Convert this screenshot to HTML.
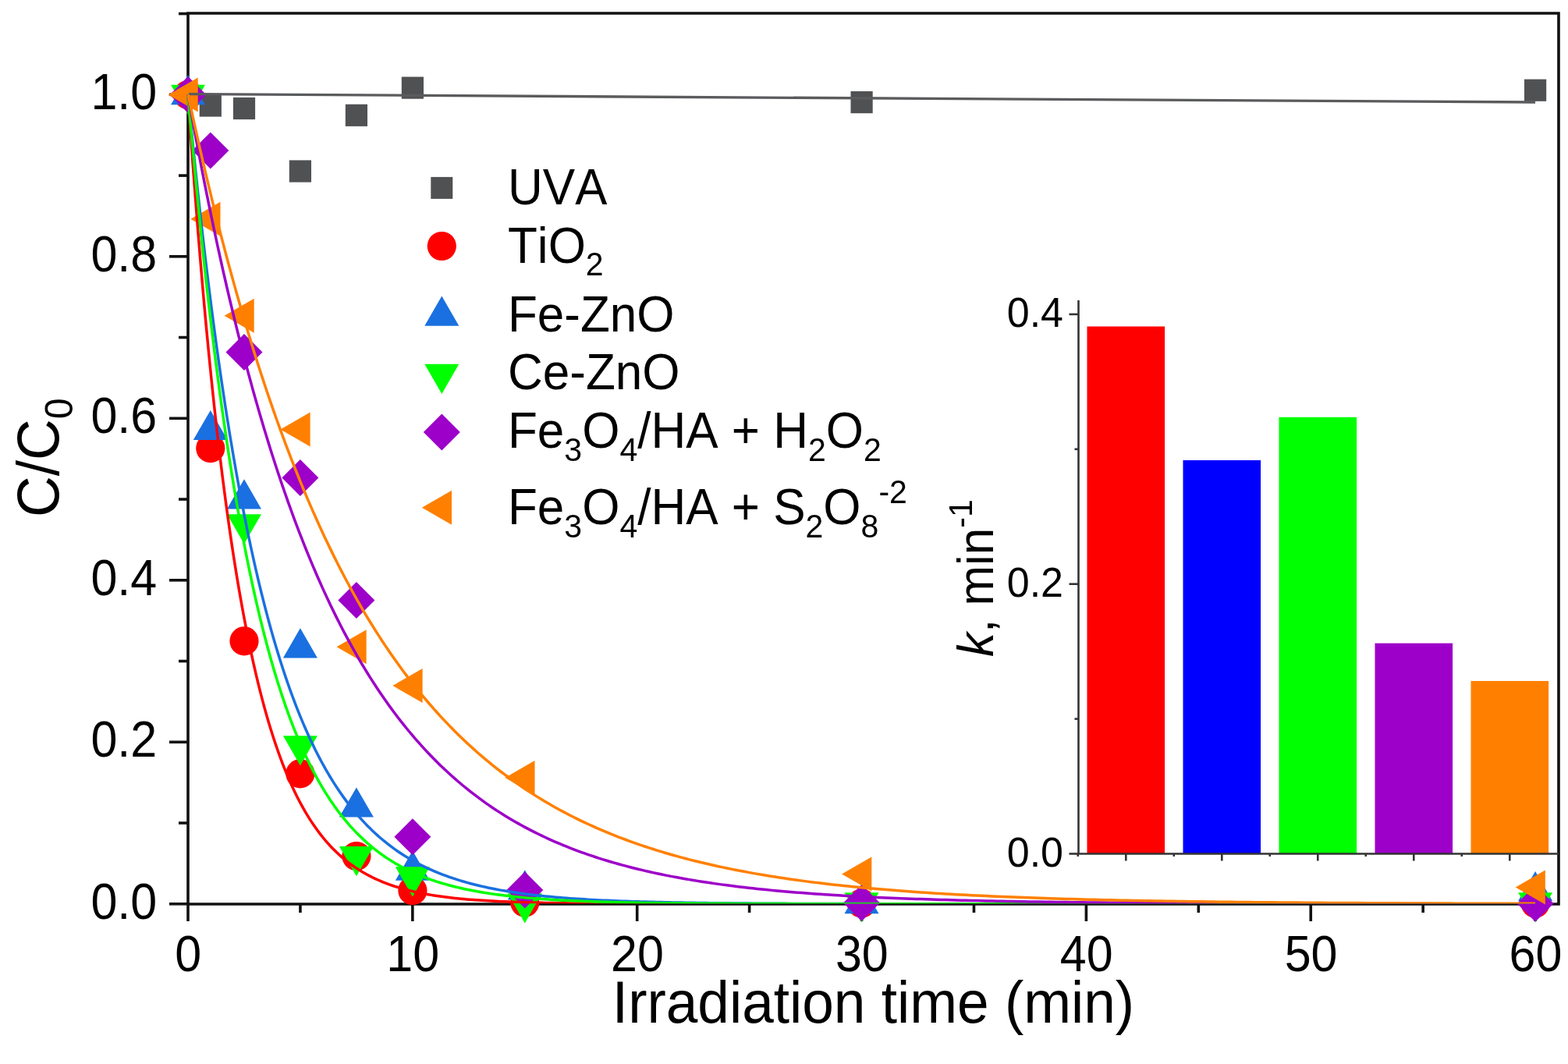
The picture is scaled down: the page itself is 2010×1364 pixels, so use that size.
<!DOCTYPE html><html><head><meta charset="utf-8"><title>C/C0 vs irradiation time</title><style>html,body{margin:0;padding:0;background:#fff;width:2010px;height:1364px;overflow:hidden}#w{width:2010px;height:1364px}svg{display:block}</style></head><body><div id="w"><svg width="2010" height="1364" viewBox="0 0 2010 1364" style="font-family:'Liberation Sans',Arial,sans-serif;font-kerning:none">
<rect width="2010" height="1364" fill="#fff"/>
<g stroke="#111111" stroke-width="3.6" fill="none" stroke-linecap="butt">
<path d="M241,1159 L241,17 L1998,17 L1998,1159 Z"/>
<line x1="217" y1="1158.80" x2="241" y2="1158.80"/>
<line x1="229" y1="1055.05" x2="241" y2="1055.05"/>
<line x1="217" y1="951.30" x2="241" y2="951.30"/>
<line x1="229" y1="847.55" x2="241" y2="847.55"/>
<line x1="217" y1="743.80" x2="241" y2="743.80"/>
<line x1="229" y1="640.05" x2="241" y2="640.05"/>
<line x1="217" y1="536.30" x2="241" y2="536.30"/>
<line x1="229" y1="432.55" x2="241" y2="432.55"/>
<line x1="217" y1="328.80" x2="241" y2="328.80"/>
<line x1="229" y1="225.05" x2="241" y2="225.05"/>
<line x1="217" y1="121.30" x2="241" y2="121.30"/>
<line x1="229" y1="17.55" x2="241" y2="17.55"/>
<line x1="241.00" y1="1159" x2="241.00" y2="1181"/>
<line x1="384.93" y1="1159" x2="384.93" y2="1170"/>
<line x1="528.85" y1="1159" x2="528.85" y2="1181"/>
<line x1="672.77" y1="1159" x2="672.77" y2="1170"/>
<line x1="816.70" y1="1159" x2="816.70" y2="1181"/>
<line x1="960.62" y1="1159" x2="960.62" y2="1170"/>
<line x1="1104.55" y1="1159" x2="1104.55" y2="1181"/>
<line x1="1248.47" y1="1159" x2="1248.47" y2="1170"/>
<line x1="1392.40" y1="1159" x2="1392.40" y2="1181"/>
<line x1="1536.33" y1="1159" x2="1536.33" y2="1170"/>
<line x1="1680.25" y1="1159" x2="1680.25" y2="1181"/>
<line x1="1824.17" y1="1159" x2="1824.17" y2="1170"/>
<line x1="1968.10" y1="1159" x2="1968.10" y2="1181"/>
</g>
<text transform="translate(201.20,1177.60) scale(1,1.06)" font-size="61" text-anchor="end" >0.0</text>
<text transform="translate(201.20,970.10) scale(1,1.06)" font-size="61" text-anchor="end" >0.2</text>
<text transform="translate(201.20,762.60) scale(1,1.06)" font-size="61" text-anchor="end" >0.4</text>
<text transform="translate(201.20,555.10) scale(1,1.06)" font-size="61" text-anchor="end" >0.6</text>
<text transform="translate(201.20,347.60) scale(1,1.06)" font-size="61" text-anchor="end" >0.8</text>
<text transform="translate(201.20,140.10) scale(1,1.06)" font-size="61" text-anchor="end" >1.0</text>
<text transform="translate(241.30,1244.80) scale(1,1.06)" font-size="61" text-anchor="middle" >0</text>
<text transform="translate(529.15,1244.80) scale(1,1.06)" font-size="61" text-anchor="middle" >10</text>
<text transform="translate(817.00,1244.80) scale(1,1.06)" font-size="61" text-anchor="middle" >20</text>
<text transform="translate(1104.85,1244.80) scale(1,1.06)" font-size="61" text-anchor="middle" >30</text>
<text transform="translate(1392.70,1244.80) scale(1,1.06)" font-size="61" text-anchor="middle" >40</text>
<text transform="translate(1680.55,1244.80) scale(1,1.06)" font-size="61" text-anchor="middle" >50</text>
<text transform="translate(1968.40,1244.80) scale(1,1.06)" font-size="61" text-anchor="middle" >60</text>
<text transform="translate(1119.50,1310.50) scale(1,1.04)" font-size="73" text-anchor="middle" >Irradiation time (min)</text>
<text transform="translate(74.5,663) rotate(-90) scale(1,1.04)" font-size="73">C/C<tspan font-size="48.5" dy="18">0</tspan></text>
<rect x="255.7" y="121.4" width="28.2" height="28.2" fill="#505153"/>
<rect x="298.9" y="124.9" width="28.2" height="28.2" fill="#505153"/>
<rect x="370.8" y="205.4" width="28.2" height="28.2" fill="#505153"/>
<rect x="442.8" y="133.7" width="28.2" height="28.2" fill="#505153"/>
<rect x="514.8" y="98.5" width="28.2" height="28.2" fill="#505153"/>
<rect x="1090.5" y="117.0" width="28.2" height="28.2" fill="#505153"/>
<rect x="1954.0" y="101.6" width="28.2" height="28.2" fill="#505153"/>
<circle cx="241.0" cy="121.5" r="18.6" fill="#FF0000"/>
<circle cx="269.8" cy="574.6" r="18.6" fill="#FF0000"/>
<circle cx="313.0" cy="821.8" r="18.6" fill="#FF0000"/>
<circle cx="384.9" cy="991.8" r="18.6" fill="#FF0000"/>
<circle cx="456.9" cy="1097.5" r="18.6" fill="#FF0000"/>
<circle cx="528.9" cy="1141.6" r="18.6" fill="#FF0000"/>
<circle cx="672.8" cy="1157.0" r="18.6" fill="#FF0000"/>
<circle cx="1104.5" cy="1158.0" r="18.6" fill="#FF0000"/>
<circle cx="1968.1" cy="1158.0" r="18.6" fill="#FF0000"/>
<polygon points="241.0,96.1 263.0,134.2 219.0,134.2" fill="#1A70E0"/>
<polygon points="269.8,525.9 291.8,564.0 247.8,564.0" fill="#1A70E0"/>
<polygon points="313.0,614.3 335.0,652.4 291.0,652.4" fill="#1A70E0"/>
<polygon points="384.9,805.3 406.9,843.4 362.9,843.4" fill="#1A70E0"/>
<polygon points="456.9,1009.5 478.9,1047.6 434.9,1047.6" fill="#1A70E0"/>
<polygon points="528.9,1090.6 550.9,1128.7 506.9,1128.7" fill="#1A70E0"/>
<polygon points="672.8,1115.3 694.8,1153.4 650.8,1153.4" fill="#1A70E0"/>
<polygon points="1104.5,1133.1 1126.5,1171.2 1082.5,1171.2" fill="#1A70E0"/>
<polygon points="1968.1,1117.0 1990.1,1155.1 1946.1,1155.1" fill="#1A70E0"/>
<polygon points="241.0,146.9 263.0,108.8 219.0,108.8" fill="#00FF00"/>
<polygon points="313.0,697.3 335.0,659.2 291.0,659.2" fill="#00FF00"/>
<polygon points="384.9,981.4 406.9,943.3 362.9,943.3" fill="#00FF00"/>
<polygon points="456.9,1123.2 478.9,1085.1 434.9,1085.1" fill="#00FF00"/>
<polygon points="528.9,1149.4 550.9,1111.3 506.9,1111.3" fill="#00FF00"/>
<polygon points="672.8,1183.4 694.8,1145.3 650.8,1145.3" fill="#00FF00"/>
<polygon points="1104.5,1182.4 1126.5,1144.3 1082.5,1144.3" fill="#00FF00"/>
<polygon points="1968.1,1182.4 1990.1,1144.3 1946.1,1144.3" fill="#00FF00"/>
<polygon points="241.0,98.0 264.5,121.5 241.0,145.0 217.5,121.5" fill="#9D00C8"/>
<polygon points="269.8,169.4 293.3,192.9 269.8,216.4 246.3,192.9" fill="#9D00C8"/>
<polygon points="313.0,428.0 336.5,451.5 313.0,475.0 289.5,451.5" fill="#9D00C8"/>
<polygon points="384.9,588.9 408.4,612.4 384.9,635.9 361.4,612.4" fill="#9D00C8"/>
<polygon points="456.9,746.0 480.4,769.5 456.9,793.0 433.4,769.5" fill="#9D00C8"/>
<polygon points="528.9,1049.3 552.4,1072.8 528.9,1096.3 505.4,1072.8" fill="#9D00C8"/>
<polygon points="672.8,1117.5 696.3,1141.0 672.8,1164.5 649.3,1141.0" fill="#9D00C8"/>
<polygon points="1104.5,1134.0 1128.0,1157.5 1104.5,1181.0 1081.0,1157.5" fill="#9D00C8"/>
<polygon points="1968.1,1134.8 1991.6,1158.3 1968.1,1181.8 1944.6,1158.3" fill="#9D00C8"/>
<polygon points="215.6,121.5 253.7,99.5 253.7,143.5" fill="#FF8000"/>
<polygon points="244.4,280.7 282.5,258.7 282.5,302.7" fill="#FF8000"/>
<polygon points="287.6,404.8 325.7,382.8 325.7,426.8" fill="#FF8000"/>
<polygon points="359.5,550.6 397.6,528.6 397.6,572.6" fill="#FF8000"/>
<polygon points="431.5,829.3 469.6,807.3 469.6,851.3" fill="#FF8000"/>
<polygon points="503.4,879.0 541.6,857.0 541.6,901.0" fill="#FF8000"/>
<polygon points="647.4,997.1 685.5,975.1 685.5,1019.1" fill="#FF8000"/>
<polygon points="1079.1,1120.5 1117.3,1098.5 1117.3,1142.5" fill="#FF8000"/>
<polygon points="1942.7,1137.5 1980.8,1115.5 1980.8,1159.5" fill="#FF8000"/>
<defs><clipPath id="pc"><rect x="230" y="17" width="1768" height="1141.3"/></clipPath></defs>
<g clip-path="url(#pc)">
<line x1="242" y1="120.6" x2="1968.1" y2="131" stroke="#5A5B5D" stroke-width="3.3"/>
<path d="M241.00,121.30 L241.01,121.46 L241.04,121.95 L241.10,122.76 L241.17,123.89 L241.27,125.34 L241.39,127.11 L241.53,129.20 L241.69,131.61 L241.87,134.33 L242.08,137.36 L242.31,140.70 L242.55,144.35 L242.82,148.30 L243.12,152.54 L243.43,157.08 L243.76,161.92 L244.12,167.04 L244.50,172.44 L244.90,178.11 L245.32,184.06 L245.76,190.28 L246.22,196.75 L246.71,203.48 L247.22,210.46 L247.75,217.68 L248.30,225.14 L248.87,232.83 L249.46,240.74 L250.08,248.86 L250.71,257.20 L251.37,265.74 L252.05,274.47 L252.76,283.40 L253.48,292.50 L254.22,301.77 L254.99,311.21 L255.78,320.81 L256.59,330.56 L257.42,340.45 L258.27,350.47 L259.15,360.62 L260.04,370.89 L260.96,381.27 L261.90,391.75 L262.86,402.33 L263.84,412.99 L264.84,423.73 L265.87,434.54 L266.92,445.42 L267.99,456.35 L269.08,467.33 L270.19,478.36 L271.32,489.41 L272.48,500.49 L273.65,511.59 L274.85,522.70 L276.07,533.82 L277.31,544.93 L278.58,556.03 L279.86,567.12 L281.17,578.18 L282.49,589.22 L283.84,600.22 L285.21,611.17 L286.61,622.08 L288.02,632.94 L289.46,643.74 L290.91,654.47 L292.39,665.14 L293.89,675.73 L295.41,686.24 L296.96,696.66 L298.52,707.00 L300.11,717.24 L301.72,727.39 L303.35,737.43 L305.00,747.37 L306.67,757.20 L308.37,766.91 L310.08,776.51 L311.82,786.00 L313.58,795.36 L315.36,804.59 L317.17,813.70 L318.99,822.68 L320.84,831.53 L322.70,840.24 L324.59,848.82 L326.50,857.26 L328.43,865.57 L330.39,873.73 L332.36,881.75 L334.36,889.63 L336.38,897.37 L338.42,904.97 L340.48,912.42 L342.56,919.73 L344.67,926.89 L346.80,933.91 L348.94,940.78 L351.11,947.51 L353.30,954.10 L355.52,960.54 L357.75,966.84 L360.01,973.00 L362.29,979.02 L364.58,984.89 L366.91,990.63 L369.25,996.23 L371.61,1001.69 L374.00,1007.01 L376.40,1012.20 L378.83,1017.26 L381.28,1022.18 L383.76,1026.98 L386.25,1031.64 L388.76,1036.18 L391.30,1040.59 L393.86,1044.88 L396.44,1049.05 L399.04,1053.10 L401.66,1057.04 L404.31,1060.85 L406.97,1064.55 L409.66,1068.14 L412.37,1071.63 L415.10,1075.00 L417.86,1078.27 L420.63,1081.43 L423.42,1084.50 L426.24,1087.46 L429.08,1090.33 L431.94,1093.10 L434.82,1095.78 L437.73,1098.37 L440.65,1100.87 L443.60,1103.29 L446.57,1105.62 L449.56,1107.87 L452.57,1110.04 L455.60,1112.13 L458.66,1114.14 L461.73,1116.09 L464.83,1117.96 L467.95,1119.76 L471.09,1121.49 L474.26,1123.16 L477.44,1124.76 L480.65,1126.30 L483.87,1127.78 L487.12,1129.20 L490.39,1130.57 L493.69,1131.88 L497.00,1133.14 L500.33,1134.35 L503.69,1135.51 L507.07,1136.62 L510.47,1137.68 L513.89,1138.70 L517.34,1139.68 L520.80,1140.61 L524.29,1141.50 L527.80,1142.36 L531.33,1143.18 L534.88,1143.96 L538.45,1144.70 L542.04,1145.42 L545.66,1146.10 L549.30,1146.75 L552.96,1147.37 L556.64,1147.96 L560.34,1148.53 L564.06,1149.07 L567.81,1149.58 L571.58,1150.07 L575.37,1150.53 L579.18,1150.98 L583.01,1151.40 L586.86,1151.80 L590.74,1152.18 L594.63,1152.54 L598.55,1152.89 L602.49,1153.21 L606.45,1153.52 L610.44,1153.82 L614.44,1154.10 L618.47,1154.37 L622.52,1154.62 L626.59,1154.86 L630.68,1155.08 L634.79,1155.30 L638.92,1155.50 L643.08,1155.69 L647.26,1155.87 L651.46,1156.05 L655.68,1156.21 L659.92,1156.36 L664.18,1156.51 L668.47,1156.65 L672.77,1156.78 L677.10,1156.90 L681.45,1157.02 L685.83,1157.12 L690.22,1157.23 L694.63,1157.32 L699.07,1157.42 L703.53,1157.50 L708.01,1157.58 L712.51,1157.66 L717.03,1157.73 L721.58,1157.80 L726.14,1157.86 L730.73,1157.92 L735.34,1157.98 L739.97,1158.03 L744.62,1158.08 L749.30,1158.13 L753.99,1158.17 L758.71,1158.22 L763.45,1158.25 L768.21,1158.29 L772.99,1158.32 L777.79,1158.36 L782.62,1158.39 L787.47,1158.41 L792.33,1158.44 L797.22,1158.47 L802.13,1158.49 L807.07,1158.51 L812.02,1158.53 L817.00,1158.55 L822.00,1158.57 L827.02,1158.58 L832.06,1158.60 L837.12,1158.61 L842.20,1158.63 L847.31,1158.64 L852.44,1158.65 L857.59,1158.66 L862.76,1158.67 L867.95,1158.68 L873.16,1158.69 L878.40,1158.70 L883.65,1158.70 L888.93,1158.71 L894.23,1158.72 L899.55,1158.72 L904.90,1158.73 L910.26,1158.73 L915.65,1158.74 L921.06,1158.74 L926.49,1158.75 L931.94,1158.75 L937.41,1158.76 L942.90,1158.76 L948.42,1158.76 L953.96,1158.77 L959.52,1158.77 L965.10,1158.77 L970.70,1158.77 L976.32,1158.77 L981.97,1158.78 L987.64,1158.78 L993.32,1158.78 L999.03,1158.78 L1004.77,1158.78 L1010.52,1158.78 L1016.30,1158.79 L1022.09,1158.79 L1027.91,1158.79 L1033.75,1158.79 L1039.61,1158.79 L1045.49,1158.79 L1051.40,1158.79 L1057.32,1158.79 L1063.27,1158.79 L1069.24,1158.79 L1075.23,1158.79 L1081.24,1158.79 L1087.28,1158.79 L1093.33,1158.80 L1099.41,1158.80 L1105.51,1158.80 L1111.63,1158.80 L1117.77,1158.80 L1123.94,1158.80 L1130.12,1158.80 L1136.33,1158.80 L1142.56,1158.80 L1148.81,1158.80 L1155.08,1158.80 L1161.37,1158.80 L1167.69,1158.80 L1174.02,1158.80 L1180.38,1158.80 L1186.76,1158.80 L1193.16,1158.80 L1199.58,1158.80 L1206.03,1158.80 L1212.49,1158.80 L1218.98,1158.80 L1225.49,1158.80 L1232.02,1158.80 L1238.57,1158.80 L1245.15,1158.80 L1251.74,1158.80 L1258.36,1158.80 L1265.00,1158.80 L1271.66,1158.80 L1278.34,1158.80 L1285.04,1158.80 L1291.77,1158.80 L1298.51,1158.80 L1305.28,1158.80 L1312.07,1158.80 L1318.88,1158.80 L1325.72,1158.80 L1332.57,1158.80 L1339.45,1158.80 L1346.34,1158.80 L1353.26,1158.80 L1360.20,1158.80 L1367.17,1158.80 L1374.15,1158.80 L1381.16,1158.80 L1388.18,1158.80 L1395.23,1158.80 L1402.30,1158.80 L1409.39,1158.80 L1416.51,1158.80 L1423.64,1158.80 L1430.80,1158.80 L1437.98,1158.80 L1445.18,1158.80 L1452.40,1158.80 L1459.64,1158.80 L1466.91,1158.80 L1474.19,1158.80 L1481.50,1158.80 L1488.83,1158.80 L1496.18,1158.80 L1503.55,1158.80 L1510.95,1158.80 L1518.36,1158.80 L1525.80,1158.80 L1533.26,1158.80 L1540.74,1158.80 L1548.24,1158.80 L1555.77,1158.80 L1563.31,1158.80 L1570.88,1158.80 L1578.47,1158.80 L1586.08,1158.80 L1593.71,1158.80 L1601.36,1158.80 L1609.04,1158.80 L1616.73,1158.80 L1624.45,1158.80 L1632.19,1158.80 L1639.95,1158.80 L1647.73,1158.80 L1655.54,1158.80 L1663.36,1158.80 L1671.21,1158.80 L1679.08,1158.80 L1686.97,1158.80 L1694.88,1158.80 L1702.82,1158.80 L1710.77,1158.80 L1718.75,1158.80 L1726.75,1158.80 L1734.77,1158.80 L1742.81,1158.80 L1750.87,1158.80 L1758.96,1158.80 L1767.07,1158.80 L1775.19,1158.80 L1783.34,1158.80 L1791.51,1158.80 L1799.71,1158.80 L1807.92,1158.80 L1816.16,1158.80 L1824.42,1158.80 L1832.70,1158.80 L1841.00,1158.80 L1849.32,1158.80 L1857.66,1158.80 L1866.03,1158.80 L1874.42,1158.80 L1882.82,1158.80 L1891.25,1158.80 L1899.71,1158.80 L1908.18,1158.80 L1916.68,1158.80 L1925.19,1158.80 L1933.73,1158.80 L1942.29,1158.80 L1950.87,1158.80 L1959.48,1158.80 L1968.10,1158.80" fill="none" stroke="#FF0000" stroke-width="3.5" stroke-linejoin="round"/>
<path d="M241.00,121.30 L241.01,121.41 L241.04,121.76 L241.10,122.32 L241.17,123.12 L241.27,124.14 L241.39,125.39 L241.53,126.86 L241.69,128.56 L241.87,130.48 L242.08,132.62 L242.31,134.98 L242.55,137.56 L242.82,140.36 L243.12,143.37 L243.43,146.59 L243.76,150.03 L244.12,153.67 L244.50,157.52 L244.90,161.58 L245.32,165.84 L245.76,170.29 L246.22,174.94 L246.71,179.79 L247.22,184.82 L247.75,190.04 L248.30,195.45 L248.87,201.03 L249.46,206.79 L250.08,212.72 L250.71,218.83 L251.37,225.10 L252.05,231.53 L252.76,238.11 L253.48,244.85 L254.22,251.75 L254.99,258.78 L255.78,265.96 L256.59,273.28 L257.42,280.72 L258.27,288.30 L259.15,296.00 L260.04,303.82 L260.96,311.75 L261.90,319.80 L262.86,327.95 L263.84,336.20 L264.84,344.55 L265.87,352.99 L266.92,361.52 L267.99,370.13 L269.08,378.82 L270.19,387.58 L271.32,396.41 L272.48,405.31 L273.65,414.26 L274.85,423.27 L276.07,432.33 L277.31,441.44 L278.58,450.59 L279.86,459.77 L281.17,468.99 L282.49,478.23 L283.84,487.50 L285.21,496.78 L286.61,506.09 L288.02,515.40 L289.46,524.72 L290.91,534.04 L292.39,543.35 L293.89,552.67 L295.41,561.97 L296.96,571.26 L298.52,580.53 L300.11,589.78 L301.72,599.00 L303.35,608.20 L305.00,617.36 L306.67,626.49 L308.37,635.58 L310.08,644.62 L311.82,653.62 L313.58,662.57 L315.36,671.47 L317.17,680.32 L318.99,689.11 L320.84,697.84 L322.70,706.50 L324.59,715.10 L326.50,723.63 L328.43,732.09 L330.39,740.48 L332.36,748.79 L334.36,757.03 L336.38,765.19 L338.42,773.26 L340.48,781.26 L342.56,789.16 L344.67,796.99 L346.80,804.72 L348.94,812.37 L351.11,819.92 L353.30,827.38 L355.52,834.75 L357.75,842.03 L360.01,849.21 L362.29,856.29 L364.58,863.27 L366.91,870.16 L369.25,876.95 L371.61,883.64 L374.00,890.23 L376.40,896.72 L378.83,903.11 L381.28,909.40 L383.76,915.58 L386.25,921.67 L388.76,927.65 L391.30,933.53 L393.86,939.31 L396.44,944.99 L399.04,950.57 L401.66,956.05 L404.31,961.42 L406.97,966.70 L409.66,971.88 L412.37,976.95 L415.10,981.93 L417.86,986.81 L420.63,991.59 L423.42,996.27 L426.24,1000.86 L429.08,1005.35 L431.94,1009.75 L434.82,1014.05 L437.73,1018.26 L440.65,1022.37 L443.60,1026.40 L446.57,1030.33 L449.56,1034.18 L452.57,1037.93 L455.60,1041.60 L458.66,1045.18 L461.73,1048.68 L464.83,1052.09 L467.95,1055.42 L471.09,1058.67 L474.26,1061.84 L477.44,1064.92 L480.65,1067.93 L483.87,1070.86 L487.12,1073.72 L490.39,1076.50 L493.69,1079.21 L497.00,1081.85 L500.33,1084.41 L503.69,1086.90 L507.07,1089.33 L510.47,1091.69 L513.89,1093.98 L517.34,1096.21 L520.80,1098.38 L524.29,1100.48 L527.80,1102.52 L531.33,1104.51 L534.88,1106.43 L538.45,1108.30 L542.04,1110.11 L545.66,1111.87 L549.30,1113.57 L552.96,1115.22 L556.64,1116.82 L560.34,1118.37 L564.06,1119.87 L567.81,1121.33 L571.58,1122.73 L575.37,1124.09 L579.18,1125.41 L583.01,1126.69 L586.86,1127.92 L590.74,1129.11 L594.63,1130.27 L598.55,1131.38 L602.49,1132.46 L606.45,1133.50 L610.44,1134.50 L614.44,1135.47 L618.47,1136.40 L622.52,1137.31 L626.59,1138.18 L630.68,1139.02 L634.79,1139.83 L638.92,1140.61 L643.08,1141.36 L647.26,1142.08 L651.46,1142.78 L655.68,1143.45 L659.92,1144.10 L664.18,1144.73 L668.47,1145.33 L672.77,1145.90 L677.10,1146.46 L681.45,1146.99 L685.83,1147.50 L690.22,1148.00 L694.63,1148.47 L699.07,1148.93 L703.53,1149.36 L708.01,1149.78 L712.51,1150.19 L717.03,1150.57 L721.58,1150.94 L726.14,1151.30 L730.73,1151.64 L735.34,1151.97 L739.97,1152.28 L744.62,1152.58 L749.30,1152.87 L753.99,1153.15 L758.71,1153.41 L763.45,1153.67 L768.21,1153.91 L772.99,1154.14 L777.79,1154.36 L782.62,1154.58 L787.47,1154.78 L792.33,1154.97 L797.22,1155.16 L802.13,1155.34 L807.07,1155.50 L812.02,1155.67 L817.00,1155.82 L822.00,1155.97 L827.02,1156.11 L832.06,1156.24 L837.12,1156.37 L842.20,1156.49 L847.31,1156.61 L852.44,1156.72 L857.59,1156.83 L862.76,1156.93 L867.95,1157.02 L873.16,1157.12 L878.40,1157.20 L883.65,1157.29 L888.93,1157.37 L894.23,1157.44 L899.55,1157.51 L904.90,1157.58 L910.26,1157.65 L915.65,1157.71 L921.06,1157.77 L926.49,1157.82 L931.94,1157.87 L937.41,1157.92 L942.90,1157.97 L948.42,1158.02 L953.96,1158.06 L959.52,1158.10 L965.10,1158.14 L970.70,1158.18 L976.32,1158.21 L981.97,1158.24 L987.64,1158.27 L993.32,1158.30 L999.03,1158.33 L1004.77,1158.36 L1010.52,1158.38 L1016.30,1158.41 L1022.09,1158.43 L1027.91,1158.45 L1033.75,1158.47 L1039.61,1158.49 L1045.49,1158.51 L1051.40,1158.52 L1057.32,1158.54 L1063.27,1158.56 L1069.24,1158.57 L1075.23,1158.58 L1081.24,1158.60 L1087.28,1158.61 L1093.33,1158.62 L1099.41,1158.63 L1105.51,1158.64 L1111.63,1158.65 L1117.77,1158.66 L1123.94,1158.67 L1130.12,1158.68 L1136.33,1158.68 L1142.56,1158.69 L1148.81,1158.70 L1155.08,1158.70 L1161.37,1158.71 L1167.69,1158.72 L1174.02,1158.72 L1180.38,1158.73 L1186.76,1158.73 L1193.16,1158.73 L1199.58,1158.74 L1206.03,1158.74 L1212.49,1158.75 L1218.98,1158.75 L1225.49,1158.75 L1232.02,1158.76 L1238.57,1158.76 L1245.15,1158.76 L1251.74,1158.76 L1258.36,1158.77 L1265.00,1158.77 L1271.66,1158.77 L1278.34,1158.77 L1285.04,1158.77 L1291.77,1158.78 L1298.51,1158.78 L1305.28,1158.78 L1312.07,1158.78 L1318.88,1158.78 L1325.72,1158.78 L1332.57,1158.78 L1339.45,1158.79 L1346.34,1158.79 L1353.26,1158.79 L1360.20,1158.79 L1367.17,1158.79 L1374.15,1158.79 L1381.16,1158.79 L1388.18,1158.79 L1395.23,1158.79 L1402.30,1158.79 L1409.39,1158.79 L1416.51,1158.79 L1423.64,1158.79 L1430.80,1158.79 L1437.98,1158.79 L1445.18,1158.79 L1452.40,1158.80 L1459.64,1158.80 L1466.91,1158.80 L1474.19,1158.80 L1481.50,1158.80 L1488.83,1158.80 L1496.18,1158.80 L1503.55,1158.80 L1510.95,1158.80 L1518.36,1158.80 L1525.80,1158.80 L1533.26,1158.80 L1540.74,1158.80 L1548.24,1158.80 L1555.77,1158.80 L1563.31,1158.80 L1570.88,1158.80 L1578.47,1158.80 L1586.08,1158.80 L1593.71,1158.80 L1601.36,1158.80 L1609.04,1158.80 L1616.73,1158.80 L1624.45,1158.80 L1632.19,1158.80 L1639.95,1158.80 L1647.73,1158.80 L1655.54,1158.80 L1663.36,1158.80 L1671.21,1158.80 L1679.08,1158.80 L1686.97,1158.80 L1694.88,1158.80 L1702.82,1158.80 L1710.77,1158.80 L1718.75,1158.80 L1726.75,1158.80 L1734.77,1158.80 L1742.81,1158.80 L1750.87,1158.80 L1758.96,1158.80 L1767.07,1158.80 L1775.19,1158.80 L1783.34,1158.80 L1791.51,1158.80 L1799.71,1158.80 L1807.92,1158.80 L1816.16,1158.80 L1824.42,1158.80 L1832.70,1158.80 L1841.00,1158.80 L1849.32,1158.80 L1857.66,1158.80 L1866.03,1158.80 L1874.42,1158.80 L1882.82,1158.80 L1891.25,1158.80 L1899.71,1158.80 L1908.18,1158.80 L1916.68,1158.80 L1925.19,1158.80 L1933.73,1158.80 L1942.29,1158.80 L1950.87,1158.80 L1959.48,1158.80 L1968.10,1158.80" fill="none" stroke="#1A70E0" stroke-width="3.5" stroke-linejoin="round"/>
<path d="M241.00,121.30 L241.01,121.43 L241.04,121.80 L241.10,122.43 L241.17,123.31 L241.27,124.45 L241.39,125.83 L241.53,127.46 L241.69,129.34 L241.87,131.46 L242.08,133.83 L242.31,136.44 L242.55,139.29 L242.82,142.39 L243.12,145.72 L243.43,149.28 L243.76,153.07 L244.12,157.10 L244.50,161.35 L244.90,165.82 L245.32,170.52 L245.76,175.43 L246.22,180.55 L246.71,185.89 L247.22,191.43 L247.75,197.17 L248.30,203.11 L248.87,209.24 L249.46,215.57 L250.08,222.08 L250.71,228.77 L251.37,235.64 L252.05,242.67 L252.76,249.88 L253.48,257.25 L254.22,264.78 L254.99,272.46 L255.78,280.28 L256.59,288.25 L257.42,296.36 L258.27,304.60 L259.15,312.96 L260.04,321.45 L260.96,330.05 L261.90,338.77 L262.86,347.59 L263.84,356.51 L264.84,365.52 L265.87,374.62 L266.92,383.81 L267.99,393.08 L269.08,402.42 L270.19,411.82 L271.32,421.29 L272.48,430.82 L273.65,440.40 L274.85,450.02 L276.07,459.68 L277.31,469.39 L278.58,479.12 L279.86,488.87 L281.17,498.65 L282.49,508.44 L283.84,518.24 L285.21,528.05 L286.61,537.86 L288.02,547.67 L289.46,557.46 L290.91,567.25 L292.39,577.01 L293.89,586.75 L295.41,596.47 L296.96,606.16 L298.52,615.81 L300.11,625.42 L301.72,634.99 L303.35,644.51 L305.00,653.98 L306.67,663.40 L308.37,672.76 L310.08,682.06 L311.82,691.30 L313.58,700.46 L315.36,709.56 L317.17,718.58 L318.99,727.53 L320.84,736.40 L322.70,745.18 L324.59,753.89 L326.50,762.50 L328.43,771.03 L330.39,779.46 L332.36,787.80 L334.36,796.05 L336.38,804.20 L338.42,812.25 L340.48,820.20 L342.56,828.05 L344.67,835.79 L346.80,843.43 L348.94,850.96 L351.11,858.39 L353.30,865.71 L355.52,872.92 L357.75,880.02 L360.01,887.01 L362.29,893.89 L364.58,900.66 L366.91,907.31 L369.25,913.86 L371.61,920.29 L374.00,926.61 L376.40,932.81 L378.83,938.91 L381.28,944.89 L383.76,950.76 L386.25,956.52 L388.76,962.16 L391.30,967.70 L393.86,973.12 L396.44,978.44 L399.04,983.64 L401.66,988.74 L404.31,993.73 L406.97,998.61 L409.66,1003.38 L412.37,1008.05 L415.10,1012.61 L417.86,1017.07 L420.63,1021.43 L423.42,1025.68 L426.24,1029.84 L429.08,1033.90 L431.94,1037.85 L434.82,1041.71 L437.73,1045.48 L440.65,1049.15 L443.60,1052.73 L446.57,1056.21 L449.56,1059.61 L452.57,1062.91 L455.60,1066.13 L458.66,1069.26 L461.73,1072.31 L464.83,1075.28 L467.95,1078.16 L471.09,1080.96 L474.26,1083.68 L477.44,1086.33 L480.65,1088.89 L483.87,1091.39 L487.12,1093.81 L490.39,1096.16 L493.69,1098.44 L497.00,1100.65 L500.33,1102.79 L503.69,1104.87 L507.07,1106.88 L510.47,1108.83 L513.89,1110.72 L517.34,1112.55 L520.80,1114.31 L524.29,1116.03 L527.80,1117.68 L531.33,1119.28 L534.88,1120.83 L538.45,1122.33 L542.04,1123.78 L545.66,1125.17 L549.30,1126.52 L552.96,1127.82 L556.64,1129.08 L560.34,1130.29 L564.06,1131.46 L567.81,1132.59 L571.58,1133.68 L575.37,1134.73 L579.18,1135.74 L583.01,1136.71 L586.86,1137.65 L590.74,1138.55 L594.63,1139.42 L598.55,1140.26 L602.49,1141.06 L606.45,1141.84 L610.44,1142.58 L614.44,1143.30 L618.47,1143.98 L622.52,1144.64 L626.59,1145.28 L630.68,1145.88 L634.79,1146.47 L638.92,1147.03 L643.08,1147.57 L647.26,1148.08 L651.46,1148.58 L655.68,1149.05 L659.92,1149.51 L664.18,1149.94 L668.47,1150.36 L672.77,1150.76 L677.10,1151.14 L681.45,1151.51 L685.83,1151.86 L690.22,1152.19 L694.63,1152.51 L699.07,1152.82 L703.53,1153.11 L708.01,1153.39 L712.51,1153.66 L717.03,1153.91 L721.58,1154.16 L726.14,1154.39 L730.73,1154.61 L735.34,1154.82 L739.97,1155.03 L744.62,1155.22 L749.30,1155.40 L753.99,1155.58 L758.71,1155.74 L763.45,1155.90 L768.21,1156.05 L772.99,1156.20 L777.79,1156.33 L782.62,1156.46 L787.47,1156.59 L792.33,1156.71 L797.22,1156.82 L802.13,1156.93 L807.07,1157.03 L812.02,1157.12 L817.00,1157.21 L822.00,1157.30 L827.02,1157.38 L832.06,1157.46 L837.12,1157.54 L842.20,1157.61 L847.31,1157.67 L852.44,1157.74 L857.59,1157.80 L862.76,1157.85 L867.95,1157.91 L873.16,1157.96 L878.40,1158.01 L883.65,1158.05 L888.93,1158.09 L894.23,1158.14 L899.55,1158.17 L904.90,1158.21 L910.26,1158.24 L915.65,1158.28 L921.06,1158.31 L926.49,1158.34 L931.94,1158.37 L937.41,1158.39 L942.90,1158.42 L948.42,1158.44 L953.96,1158.46 L959.52,1158.48 L965.10,1158.50 L970.70,1158.52 L976.32,1158.54 L981.97,1158.55 L987.64,1158.57 L993.32,1158.58 L999.03,1158.60 L1004.77,1158.61 L1010.52,1158.62 L1016.30,1158.63 L1022.09,1158.64 L1027.91,1158.65 L1033.75,1158.66 L1039.61,1158.67 L1045.49,1158.68 L1051.40,1158.69 L1057.32,1158.69 L1063.27,1158.70 L1069.24,1158.71 L1075.23,1158.71 L1081.24,1158.72 L1087.28,1158.72 L1093.33,1158.73 L1099.41,1158.73 L1105.51,1158.74 L1111.63,1158.74 L1117.77,1158.75 L1123.94,1158.75 L1130.12,1158.75 L1136.33,1158.76 L1142.56,1158.76 L1148.81,1158.76 L1155.08,1158.76 L1161.37,1158.77 L1167.69,1158.77 L1174.02,1158.77 L1180.38,1158.77 L1186.76,1158.78 L1193.16,1158.78 L1199.58,1158.78 L1206.03,1158.78 L1212.49,1158.78 L1218.98,1158.78 L1225.49,1158.78 L1232.02,1158.79 L1238.57,1158.79 L1245.15,1158.79 L1251.74,1158.79 L1258.36,1158.79 L1265.00,1158.79 L1271.66,1158.79 L1278.34,1158.79 L1285.04,1158.79 L1291.77,1158.79 L1298.51,1158.79 L1305.28,1158.79 L1312.07,1158.79 L1318.88,1158.79 L1325.72,1158.79 L1332.57,1158.80 L1339.45,1158.80 L1346.34,1158.80 L1353.26,1158.80 L1360.20,1158.80 L1367.17,1158.80 L1374.15,1158.80 L1381.16,1158.80 L1388.18,1158.80 L1395.23,1158.80 L1402.30,1158.80 L1409.39,1158.80 L1416.51,1158.80 L1423.64,1158.80 L1430.80,1158.80 L1437.98,1158.80 L1445.18,1158.80 L1452.40,1158.80 L1459.64,1158.80 L1466.91,1158.80 L1474.19,1158.80 L1481.50,1158.80 L1488.83,1158.80 L1496.18,1158.80 L1503.55,1158.80 L1510.95,1158.80 L1518.36,1158.80 L1525.80,1158.80 L1533.26,1158.80 L1540.74,1158.80 L1548.24,1158.80 L1555.77,1158.80 L1563.31,1158.80 L1570.88,1158.80 L1578.47,1158.80 L1586.08,1158.80 L1593.71,1158.80 L1601.36,1158.80 L1609.04,1158.80 L1616.73,1158.80 L1624.45,1158.80 L1632.19,1158.80 L1639.95,1158.80 L1647.73,1158.80 L1655.54,1158.80 L1663.36,1158.80 L1671.21,1158.80 L1679.08,1158.80 L1686.97,1158.80 L1694.88,1158.80 L1702.82,1158.80 L1710.77,1158.80 L1718.75,1158.80 L1726.75,1158.80 L1734.77,1158.80 L1742.81,1158.80 L1750.87,1158.80 L1758.96,1158.80 L1767.07,1158.80 L1775.19,1158.80 L1783.34,1158.80 L1791.51,1158.80 L1799.71,1158.80 L1807.92,1158.80 L1816.16,1158.80 L1824.42,1158.80 L1832.70,1158.80 L1841.00,1158.80 L1849.32,1158.80 L1857.66,1158.80 L1866.03,1158.80 L1874.42,1158.80 L1882.82,1158.80 L1891.25,1158.80 L1899.71,1158.80 L1908.18,1158.80 L1916.68,1158.80 L1925.19,1158.80 L1933.73,1158.80 L1942.29,1158.80 L1950.87,1158.80 L1959.48,1158.80 L1968.10,1158.80" fill="none" stroke="#00FF00" stroke-width="3.5" stroke-linejoin="round"/>
<path d="M241.00,121.30 L241.01,121.36 L241.04,121.54 L241.10,121.85 L241.17,122.28 L241.27,122.83 L241.39,123.50 L241.53,124.29 L241.69,125.20 L241.87,126.24 L242.08,127.39 L242.31,128.66 L242.55,130.06 L242.82,131.57 L243.12,133.20 L243.43,134.95 L243.76,136.82 L244.12,138.80 L244.50,140.90 L244.90,143.12 L245.32,145.45 L245.76,147.89 L246.22,150.45 L246.71,153.11 L247.22,155.89 L247.75,158.78 L248.30,161.78 L248.87,164.89 L249.46,168.10 L250.08,171.42 L250.71,174.84 L251.37,178.37 L252.05,182.00 L252.76,185.73 L253.48,189.56 L254.22,193.49 L254.99,197.52 L255.78,201.64 L256.59,205.86 L257.42,210.17 L258.27,214.57 L259.15,219.06 L260.04,223.64 L260.96,228.31 L261.90,233.07 L262.86,237.90 L263.84,242.82 L264.84,247.83 L265.87,252.91 L266.92,258.07 L267.99,263.30 L269.08,268.61 L270.19,273.99 L271.32,279.44 L272.48,284.97 L273.65,290.56 L274.85,296.21 L276.07,301.93 L277.31,307.71 L278.58,313.56 L279.86,319.46 L281.17,325.42 L282.49,331.43 L283.84,337.50 L285.21,343.61 L286.61,349.78 L288.02,356.00 L289.46,362.26 L290.91,368.56 L292.39,374.91 L293.89,381.30 L295.41,387.73 L296.96,394.19 L298.52,400.69 L300.11,407.23 L301.72,413.79 L303.35,420.38 L305.00,427.01 L306.67,433.65 L308.37,440.33 L310.08,447.02 L311.82,453.73 L313.58,460.47 L315.36,467.22 L317.17,473.99 L318.99,480.77 L320.84,487.56 L322.70,494.36 L324.59,501.17 L326.50,507.99 L328.43,514.81 L330.39,521.64 L332.36,528.47 L334.36,535.29 L336.38,542.12 L338.42,548.94 L340.48,555.76 L342.56,562.58 L344.67,569.38 L346.80,576.18 L348.94,582.97 L351.11,589.74 L353.30,596.50 L355.52,603.25 L357.75,609.98 L360.01,616.69 L362.29,623.38 L364.58,630.05 L366.91,636.70 L369.25,643.33 L371.61,649.94 L374.00,656.51 L376.40,663.07 L378.83,669.59 L381.28,676.08 L383.76,682.55 L386.25,688.98 L388.76,695.38 L391.30,701.75 L393.86,708.08 L396.44,714.38 L399.04,720.64 L401.66,726.87 L404.31,733.05 L406.97,739.20 L409.66,745.30 L412.37,751.37 L415.10,757.39 L417.86,763.37 L420.63,769.31 L423.42,775.21 L426.24,781.06 L429.08,786.86 L431.94,792.62 L434.82,798.33 L437.73,803.99 L440.65,809.61 L443.60,815.18 L446.57,820.70 L449.56,826.17 L452.57,831.58 L455.60,836.95 L458.66,842.27 L461.73,847.54 L464.83,852.75 L467.95,857.92 L471.09,863.03 L474.26,868.09 L477.44,873.09 L480.65,878.04 L483.87,882.94 L487.12,887.79 L490.39,892.58 L493.69,897.32 L497.00,902.00 L500.33,906.63 L503.69,911.21 L507.07,915.73 L510.47,920.19 L513.89,924.61 L517.34,928.96 L520.80,933.27 L524.29,937.51 L527.80,941.71 L531.33,945.85 L534.88,949.93 L538.45,953.96 L542.04,957.94 L545.66,961.86 L549.30,965.73 L552.96,969.55 L556.64,973.31 L560.34,977.02 L564.06,980.67 L567.81,984.27 L571.58,987.82 L575.37,991.32 L579.18,994.77 L583.01,998.16 L586.86,1001.50 L590.74,1004.79 L594.63,1008.03 L598.55,1011.22 L602.49,1014.35 L606.45,1017.44 L610.44,1020.48 L614.44,1023.47 L618.47,1026.41 L622.52,1029.30 L626.59,1032.14 L630.68,1034.94 L634.79,1037.68 L638.92,1040.38 L643.08,1043.04 L647.26,1045.65 L651.46,1048.21 L655.68,1050.72 L659.92,1053.20 L664.18,1055.62 L668.47,1058.01 L672.77,1060.35 L677.10,1062.65 L681.45,1064.90 L685.83,1067.11 L690.22,1069.28 L694.63,1071.41 L699.07,1073.50 L703.53,1075.55 L708.01,1077.56 L712.51,1079.53 L717.03,1081.46 L721.58,1083.36 L726.14,1085.21 L730.73,1087.03 L735.34,1088.81 L739.97,1090.56 L744.62,1092.27 L749.30,1093.94 L753.99,1095.58 L758.71,1097.19 L763.45,1098.76 L768.21,1100.30 L772.99,1101.80 L777.79,1103.28 L782.62,1104.72 L787.47,1106.13 L792.33,1107.51 L797.22,1108.86 L802.13,1110.18 L807.07,1111.47 L812.02,1112.73 L817.00,1113.97 L822.00,1115.17 L827.02,1116.35 L832.06,1117.50 L837.12,1118.63 L842.20,1119.73 L847.31,1120.80 L852.44,1121.85 L857.59,1122.87 L862.76,1123.87 L867.95,1124.84 L873.16,1125.80 L878.40,1126.73 L883.65,1127.63 L888.93,1128.52 L894.23,1129.38 L899.55,1130.22 L904.90,1131.04 L910.26,1131.84 L915.65,1132.62 L921.06,1133.38 L926.49,1134.13 L931.94,1134.85 L937.41,1135.55 L942.90,1136.24 L948.42,1136.91 L953.96,1137.56 L959.52,1138.19 L965.10,1138.81 L970.70,1139.41 L976.32,1140.00 L981.97,1140.57 L987.64,1141.12 L993.32,1141.66 L999.03,1142.19 L1004.77,1142.70 L1010.52,1143.20 L1016.30,1143.68 L1022.09,1144.15 L1027.91,1144.61 L1033.75,1145.05 L1039.61,1145.49 L1045.49,1145.91 L1051.40,1146.32 L1057.32,1146.71 L1063.27,1147.10 L1069.24,1147.47 L1075.23,1147.84 L1081.24,1148.19 L1087.28,1148.53 L1093.33,1148.87 L1099.41,1149.19 L1105.51,1149.51 L1111.63,1149.81 L1117.77,1150.11 L1123.94,1150.39 L1130.12,1150.67 L1136.33,1150.94 L1142.56,1151.21 L1148.81,1151.46 L1155.08,1151.71 L1161.37,1151.95 L1167.69,1152.18 L1174.02,1152.40 L1180.38,1152.62 L1186.76,1152.83 L1193.16,1153.04 L1199.58,1153.24 L1206.03,1153.43 L1212.49,1153.61 L1218.98,1153.80 L1225.49,1153.97 L1232.02,1154.14 L1238.57,1154.30 L1245.15,1154.46 L1251.74,1154.61 L1258.36,1154.76 L1265.00,1154.91 L1271.66,1155.04 L1278.34,1155.18 L1285.04,1155.31 L1291.77,1155.43 L1298.51,1155.56 L1305.28,1155.67 L1312.07,1155.79 L1318.88,1155.90 L1325.72,1156.00 L1332.57,1156.11 L1339.45,1156.21 L1346.34,1156.30 L1353.26,1156.39 L1360.20,1156.48 L1367.17,1156.57 L1374.15,1156.65 L1381.16,1156.73 L1388.18,1156.81 L1395.23,1156.89 L1402.30,1156.96 L1409.39,1157.03 L1416.51,1157.10 L1423.64,1157.16 L1430.80,1157.22 L1437.98,1157.28 L1445.18,1157.34 L1452.40,1157.40 L1459.64,1157.45 L1466.91,1157.51 L1474.19,1157.56 L1481.50,1157.60 L1488.83,1157.65 L1496.18,1157.70 L1503.55,1157.74 L1510.95,1157.78 L1518.36,1157.82 L1525.80,1157.86 L1533.26,1157.90 L1540.74,1157.93 L1548.24,1157.97 L1555.77,1158.00 L1563.31,1158.03 L1570.88,1158.07 L1578.47,1158.10 L1586.08,1158.12 L1593.71,1158.15 L1601.36,1158.18 L1609.04,1158.20 L1616.73,1158.23 L1624.45,1158.25 L1632.19,1158.27 L1639.95,1158.30 L1647.73,1158.32 L1655.54,1158.34 L1663.36,1158.36 L1671.21,1158.38 L1679.08,1158.39 L1686.97,1158.41 L1694.88,1158.43 L1702.82,1158.44 L1710.77,1158.46 L1718.75,1158.47 L1726.75,1158.49 L1734.77,1158.50 L1742.81,1158.51 L1750.87,1158.52 L1758.96,1158.54 L1767.07,1158.55 L1775.19,1158.56 L1783.34,1158.57 L1791.51,1158.58 L1799.71,1158.59 L1807.92,1158.60 L1816.16,1158.61 L1824.42,1158.62 L1832.70,1158.62 L1841.00,1158.63 L1849.32,1158.64 L1857.66,1158.65 L1866.03,1158.65 L1874.42,1158.66 L1882.82,1158.67 L1891.25,1158.67 L1899.71,1158.68 L1908.18,1158.68 L1916.68,1158.69 L1925.19,1158.69 L1933.73,1158.70 L1942.29,1158.70 L1950.87,1158.71 L1959.48,1158.71 L1968.10,1158.72" fill="none" stroke="#9D00C8" stroke-width="3.5" stroke-linejoin="round"/>
<path d="M241.00,121.30 L241.01,121.35 L241.04,121.50 L241.10,121.76 L241.17,122.11 L241.27,122.56 L241.39,123.12 L241.53,123.78 L241.69,124.53 L241.87,125.39 L242.08,126.35 L242.31,127.40 L242.55,128.56 L242.82,129.81 L243.12,131.17 L243.43,132.62 L243.76,134.17 L244.12,135.81 L244.50,137.56 L244.90,139.40 L245.32,141.34 L245.76,143.37 L246.22,145.49 L246.71,147.71 L247.22,150.03 L247.75,152.43 L248.30,154.93 L248.87,157.52 L249.46,160.21 L250.08,162.98 L250.71,165.84 L251.37,168.78 L252.05,171.82 L252.76,174.94 L253.48,178.15 L254.22,181.44 L254.99,184.82 L255.78,188.28 L256.59,191.82 L257.42,195.45 L258.27,199.15 L259.15,202.93 L260.04,206.79 L260.96,210.73 L261.90,214.74 L262.86,218.83 L263.84,222.99 L264.84,227.22 L265.87,231.53 L266.92,235.90 L267.99,240.34 L269.08,244.85 L270.19,249.43 L271.32,254.08 L272.48,258.78 L273.65,263.55 L274.85,268.38 L276.07,273.28 L277.31,278.23 L278.58,283.23 L279.86,288.30 L281.17,293.42 L282.49,298.59 L283.84,303.82 L285.21,309.09 L286.61,314.42 L288.02,319.80 L289.46,325.22 L290.91,330.69 L292.39,336.20 L293.89,341.75 L295.41,347.35 L296.96,352.99 L298.52,358.66 L300.11,364.38 L301.72,370.13 L303.35,375.91 L305.00,381.73 L306.67,387.58 L308.37,393.46 L310.08,399.37 L311.82,405.31 L313.58,411.27 L315.36,417.26 L317.17,423.27 L318.99,429.31 L320.84,435.36 L322.70,441.44 L324.59,447.53 L326.50,453.64 L328.43,459.77 L330.39,465.91 L332.36,472.06 L334.36,478.23 L336.38,484.41 L338.42,490.59 L340.48,496.78 L342.56,502.98 L344.67,509.19 L346.80,515.40 L348.94,521.61 L351.11,527.82 L353.30,534.04 L355.52,540.25 L357.75,546.46 L360.01,552.67 L362.29,558.87 L364.58,565.07 L366.91,571.26 L369.25,577.44 L371.61,583.61 L374.00,589.78 L376.40,595.93 L378.83,602.07 L381.28,608.20 L383.76,614.31 L386.25,620.41 L388.76,626.49 L391.30,632.55 L393.86,638.60 L396.44,644.62 L399.04,650.63 L401.66,656.61 L404.31,662.57 L406.97,668.51 L409.66,674.43 L412.37,680.32 L415.10,686.19 L417.86,692.02 L420.63,697.84 L423.42,703.62 L426.24,709.37 L429.08,715.10 L431.94,720.79 L434.82,726.46 L437.73,732.09 L440.65,737.69 L443.60,743.26 L446.57,748.79 L449.56,754.29 L452.57,759.76 L455.60,765.19 L458.66,770.58 L461.73,775.94 L464.83,781.26 L467.95,786.54 L471.09,791.78 L474.26,796.99 L477.44,802.15 L480.65,807.28 L483.87,812.37 L487.12,817.41 L490.39,822.42 L493.69,827.38 L497.00,832.31 L500.33,837.19 L503.69,842.03 L507.07,846.82 L510.47,851.58 L513.89,856.29 L517.34,860.96 L520.80,865.58 L524.29,870.16 L527.80,874.70 L531.33,879.19 L534.88,883.64 L538.45,888.05 L542.04,892.40 L545.66,896.72 L549.30,900.99 L552.96,905.22 L556.64,909.40 L560.34,913.53 L564.06,917.62 L567.81,921.67 L571.58,925.67 L575.37,929.62 L579.18,933.53 L583.01,937.40 L586.86,941.22 L590.74,944.99 L594.63,948.72 L598.55,952.41 L602.49,956.05 L606.45,959.64 L610.44,963.19 L614.44,966.70 L618.47,970.16 L622.52,973.58 L626.59,976.95 L630.68,980.28 L634.79,983.57 L638.92,986.81 L643.08,990.01 L647.26,993.16 L651.46,996.27 L655.68,999.34 L659.92,1002.37 L664.18,1005.35 L668.47,1008.29 L672.77,1011.19 L677.10,1014.05 L681.45,1016.86 L685.83,1019.64 L690.22,1022.37 L694.63,1025.07 L699.07,1027.72 L703.53,1030.33 L708.01,1032.90 L712.51,1035.44 L717.03,1037.93 L721.58,1040.39 L726.14,1042.80 L730.73,1045.18 L735.34,1047.52 L739.97,1049.83 L744.62,1052.09 L749.30,1054.32 L753.99,1056.51 L758.71,1058.67 L763.45,1060.79 L768.21,1062.87 L772.99,1064.92 L777.79,1066.94 L782.62,1068.92 L787.47,1070.86 L792.33,1072.78 L797.22,1074.66 L802.13,1076.50 L807.07,1078.32 L812.02,1080.10 L817.00,1081.85 L822.00,1083.56 L827.02,1085.25 L832.06,1086.90 L837.12,1088.53 L842.20,1090.12 L847.31,1091.69 L852.44,1093.23 L857.59,1094.73 L862.76,1096.21 L867.95,1097.66 L873.16,1099.09 L878.40,1100.48 L883.65,1101.85 L888.93,1103.19 L894.23,1104.51 L899.55,1105.80 L904.90,1107.06 L910.26,1108.30 L915.65,1109.51 L921.06,1110.70 L926.49,1111.87 L931.94,1113.01 L937.41,1114.12 L942.90,1115.22 L948.42,1116.29 L953.96,1117.34 L959.52,1118.37 L965.10,1119.38 L970.70,1120.36 L976.32,1121.33 L981.97,1122.27 L987.64,1123.19 L993.32,1124.09 L999.03,1124.98 L1004.77,1125.84 L1010.52,1126.69 L1016.30,1127.51 L1022.09,1128.32 L1027.91,1129.11 L1033.75,1129.89 L1039.61,1130.64 L1045.49,1131.38 L1051.40,1132.10 L1057.32,1132.81 L1063.27,1133.50 L1069.24,1134.17 L1075.23,1134.83 L1081.24,1135.47 L1087.28,1136.10 L1093.33,1136.71 L1099.41,1137.31 L1105.51,1137.89 L1111.63,1138.46 L1117.77,1139.02 L1123.94,1139.56 L1130.12,1140.09 L1136.33,1140.61 L1142.56,1141.11 L1148.81,1141.60 L1155.08,1142.08 L1161.37,1142.55 L1167.69,1143.01 L1174.02,1143.45 L1180.38,1143.89 L1186.76,1144.31 L1193.16,1144.73 L1199.58,1145.13 L1206.03,1145.52 L1212.49,1145.90 L1218.98,1146.27 L1225.49,1146.64 L1232.02,1146.99 L1238.57,1147.34 L1245.15,1147.67 L1251.74,1148.00 L1258.36,1148.32 L1265.00,1148.62 L1271.66,1148.93 L1278.34,1149.22 L1285.04,1149.51 L1291.77,1149.78 L1298.51,1150.05 L1305.28,1150.32 L1312.07,1150.57 L1318.88,1150.82 L1325.72,1151.07 L1332.57,1151.30 L1339.45,1151.53 L1346.34,1151.75 L1353.26,1151.97 L1360.20,1152.18 L1367.17,1152.39 L1374.15,1152.58 L1381.16,1152.78 L1388.18,1152.97 L1395.23,1153.15 L1402.30,1153.33 L1409.39,1153.50 L1416.51,1153.67 L1423.64,1153.83 L1430.80,1153.99 L1437.98,1154.14 L1445.18,1154.29 L1452.40,1154.44 L1459.64,1154.58 L1466.91,1154.71 L1474.19,1154.84 L1481.50,1154.97 L1488.83,1155.10 L1496.18,1155.22 L1503.55,1155.34 L1510.95,1155.45 L1518.36,1155.56 L1525.80,1155.67 L1533.26,1155.77 L1540.74,1155.87 L1548.24,1155.97 L1555.77,1156.06 L1563.31,1156.15 L1570.88,1156.24 L1578.47,1156.33 L1586.08,1156.41 L1593.71,1156.49 L1601.36,1156.57 L1609.04,1156.65 L1616.73,1156.72 L1624.45,1156.79 L1632.19,1156.86 L1639.95,1156.93 L1647.73,1156.99 L1655.54,1157.06 L1663.36,1157.12 L1671.21,1157.18 L1679.08,1157.23 L1686.97,1157.29 L1694.88,1157.34 L1702.82,1157.39 L1710.77,1157.44 L1718.75,1157.49 L1726.75,1157.54 L1734.77,1157.58 L1742.81,1157.62 L1750.87,1157.67 L1758.96,1157.71 L1767.07,1157.75 L1775.19,1157.78 L1783.34,1157.82 L1791.51,1157.86 L1799.71,1157.89 L1807.92,1157.92 L1816.16,1157.96 L1824.42,1157.99 L1832.70,1158.02 L1841.00,1158.05 L1849.32,1158.07 L1857.66,1158.10 L1866.03,1158.13 L1874.42,1158.15 L1882.82,1158.18 L1891.25,1158.20 L1899.71,1158.22 L1908.18,1158.24 L1916.68,1158.26 L1925.19,1158.28 L1933.73,1158.30 L1942.29,1158.32 L1950.87,1158.34 L1959.48,1158.36 L1968.10,1158.37" fill="none" stroke="#FF8000" stroke-width="3.5" stroke-linejoin="round"/>
</g>
<rect x="552.3" y="226.9" width="28" height="28" fill="#505153"/>
<text transform="translate(651.00,261.50) scale(1,1.04)" font-size="62" text-anchor="start" >UVA</text>
<circle cx="566.3" cy="315.5" r="18.6" fill="#FF0000"/>
<text transform="translate(651.00,336.50) scale(1,1.04)" font-size="62" text-anchor="start" >TiO<tspan font-size="41" dy="16">2</tspan></text>
<polygon points="566.3,379.6 588.3,417.7 544.3,417.7" fill="#1A70E0"/>
<text transform="translate(651.00,425.00) scale(1,1.04)" font-size="62" text-anchor="start" >Fe-ZnO</text>
<polygon points="566.3,504.9 588.3,466.8 544.3,466.8" fill="#00FF00"/>
<text transform="translate(651.00,499.00) scale(1,1.04)" font-size="62" text-anchor="start" >Ce-ZnO</text>
<polygon points="566.3,530.5 589.8,554.0 566.3,577.5 542.8,554.0" fill="#9D00C8"/>
<text transform="translate(651.00,574.30) scale(1,1.04)" font-size="62" text-anchor="start" >Fe<tspan font-size="41" dy="16">3</tspan><tspan dy="-16">O</tspan><tspan font-size="41" dy="16">4</tspan><tspan dy="-16">/HA + H</tspan><tspan font-size="41" dy="16">2</tspan><tspan dy="-16">O</tspan><tspan font-size="41" dy="16">2</tspan></text>
<polygon points="540.9,650.7 579.0,628.7 579.0,672.7" fill="#FF8000"/>
<text transform="translate(651.00,672.20) scale(1,1.04)" font-size="62" text-anchor="start" >Fe<tspan font-size="41" dy="16">3</tspan><tspan dy="-16">O</tspan><tspan font-size="41" dy="16">4</tspan><tspan dy="-16">/HA + S</tspan><tspan font-size="41" dy="16">2</tspan><tspan dy="-16">O</tspan><tspan font-size="41" dy="16">8</tspan><tspan font-size="41" dy="-42">-2</tspan></text>
<rect x="1393.5" y="418.5" width="99.6" height="676.0" fill="#FF0000"/>
<rect x="1516.5" y="590.0" width="99.6" height="504.5" fill="#0000FF"/>
<rect x="1639.5" y="534.8" width="99.6" height="559.7" fill="#00FF00"/>
<rect x="1762.5" y="824.6" width="99.6" height="269.9" fill="#9D00C8"/>
<rect x="1885.5" y="873.0" width="99.6" height="221.5" fill="#FF8000"/>
<g stroke="#333333" stroke-width="2.6" fill="none">
<path d="M1382.5,385 L1382.5,1094.5 L1998,1094.5"/>
<line x1="1370.5" y1="1094.5" x2="1382.5" y2="1094.5"/>
<line x1="1377.5" y1="921.6" x2="1382.5" y2="921.6"/>
<line x1="1370.5" y1="748.7" x2="1382.5" y2="748.7"/>
<line x1="1377.5" y1="575.8" x2="1382.5" y2="575.8"/>
<line x1="1370.5" y1="402.9" x2="1382.5" y2="402.9"/>
<line x1="1443.3" y1="1094.5" x2="1443.3" y2="1103.5"/>
<line x1="1504.8" y1="1094.5" x2="1504.8" y2="1098.0"/>
<line x1="1566.3" y1="1094.5" x2="1566.3" y2="1103.5"/>
<line x1="1627.8" y1="1094.5" x2="1627.8" y2="1098.0"/>
<line x1="1689.3" y1="1094.5" x2="1689.3" y2="1103.5"/>
<line x1="1750.8" y1="1094.5" x2="1750.8" y2="1098.0"/>
<line x1="1812.3" y1="1094.5" x2="1812.3" y2="1103.5"/>
<line x1="1873.8" y1="1094.5" x2="1873.8" y2="1098.0"/>
<line x1="1935.3" y1="1094.5" x2="1935.3" y2="1103.5"/>
<line x1="1381.8" y1="1094.5" x2="1381.8" y2="1098.0"/>
</g>
<text transform="translate(1363.00,1111.00) scale(1,1.04)" font-size="52" text-anchor="end" >0.0</text>
<text transform="translate(1363.00,765.20) scale(1,1.04)" font-size="52" text-anchor="end" >0.2</text>
<text transform="translate(1363.00,419.40) scale(1,1.04)" font-size="52" text-anchor="end" >0.4</text>
<text transform="translate(1273,842) rotate(-90) scale(1,1.04)" font-size="62"><tspan font-style="italic">k</tspan>, min<tspan font-size="41" dy="-26">-1</tspan></text>
</svg></div></body></html>
